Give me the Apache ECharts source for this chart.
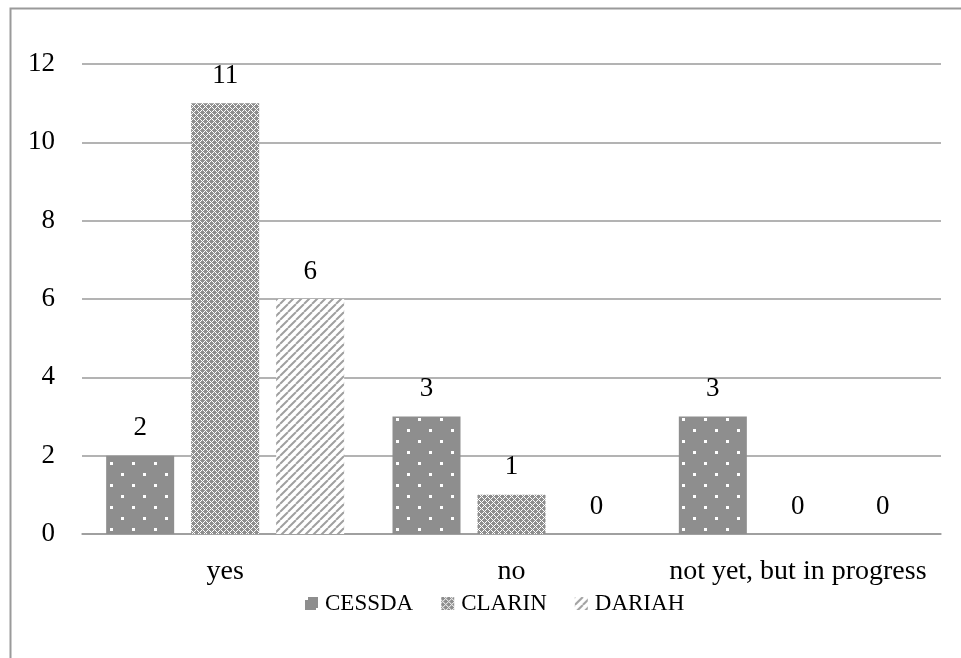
<!DOCTYPE html>
<html>
<head>
<meta charset="utf-8">
<script src="https://cdn.jsdelivr.net/npm/echarts@6/dist/echarts.min.js"></script>
<style>
  html, body { margin: 0; padding: 0; background: #fff; }
  #chart { width: 961px; height: 658px; }
</style>
</head>
<body>
<div id="chart"></div>
<script>
const categories = ['yes', 'no', 'not yet, but in progress'];
const seriesNames = ['CESSDA', 'CLARIN', 'DARIAH'];
const cessda = [2, 3, 3];
const clarin = [11, 1, 0];
const dariah = [6, 0, 0];
const yTicks = [0, 2, 4, 6, 8, 10, 12];

const GRAY = '#8e8e8e';
const FONT = '"Liberation Serif", "DejaVu Serif", serif';

// white dots on gray
function dotPattern() {
  let c = document.createElement('canvas');
  c.width = 22; c.height = 22;
  let ctx = c.getContext('2d');
  ctx.fillStyle = GRAY;
  ctx.fillRect(0, 0, 22, 22);
  ctx.fillStyle = '#fff';
  ctx.fillRect(0, 0, 3, 3);
  ctx.fillRect(11, 11, 3, 3);
  return c;
}

// small woven checker
function checkPattern() {
  let c = document.createElement('canvas');
  c.width = 6; c.height = 6;
  let ctx = c.getContext('2d');
  ctx.fillStyle = '#fff';
  ctx.fillRect(0, 0, 6, 6);
  ctx.fillStyle = GRAY;
  for (let y = 0; y < 6; y++) {
    for (let x = 0; x < 6; x++) {
      let bx = Math.floor(x / 3), by = Math.floor(y / 3);
      if (((bx + by) % 2 === 0) || ((x + y) % 2 === 0)) ctx.fillRect(x, y, 1, 1);
    }
  }
  return c;
}

// diagonal hatch
function diagPattern() {
  let c = document.createElement('canvas');
  c.width = 8; c.height = 8;
  let ctx = c.getContext('2d');
  ctx.fillStyle = '#fff';
  ctx.fillRect(0, 0, 8, 8);
  ctx.strokeStyle = '#a0a0a0';
  ctx.lineWidth = 2;
  ctx.beginPath();
  for (let k = -8; k <= 16; k += 8) {
    ctx.moveTo(k, 8);
    ctx.lineTo(k + 8, 0);
  }
  ctx.stroke();
  return c;
}

const patterns = [dotPattern(), checkPattern(), diagPattern()];
const values = [cessda, clarin, dariah];

let chartDom = document.getElementById('chart');
let myChart = echarts.init(chartDom, null, { renderer: 'canvas' });

let option = {
  backgroundColor: '#fff',
  animation: false,
  textStyle: { fontFamily: FONT },
  graphic: [
    {
      type: 'rect',
      shape: { x: 10.5, y: 8.5, width: 1000, height: 1000 },
      style: { fill: 'none', stroke: '#9a9a9a', lineWidth: 2 },
      silent: true,
    },
  ],
  legend: {
    top: 587,
    left: 300,
    itemWidth: 13,
    itemHeight: 13,
    itemGap: 28,
    icon: 'rect',
    textStyle: { fontFamily: FONT, fontSize: 23, color: '#000', padding: [0, 0, 0, 2] },
    data: seriesNames,
  },
  grid: { left: 82, right: 20, top: 64, bottom: 124, containLabel: false },
  xAxis: {
    type: 'category',
    data: categories,
    axisTick: { show: false },
    axisLine: { lineStyle: { color: '#9a9a9a', width: 1.5 } },
    axisLabel: { color: '#000', fontSize: 28, fontFamily: FONT, margin: 24, interval: 0 },
  },
  yAxis: {
    type: 'value',
    min: yTicks[0],
    max: yTicks[yTicks.length - 1],
    interval: 2,
    axisLine: { show: false },
    axisTick: { show: false },
    splitLine: { lineStyle: { color: '#9a9a9a', width: 1.5 } },
    axisLabel: { color: '#000', fontSize: 27, fontFamily: FONT, margin: 27 },
  },
  series: seriesNames.map((name, i) => ({
    name: name,
    type: 'bar',
    data: values[i],
    barWidth: 68,
    barGap: '25%',
    itemStyle: { color: { image: patterns[i], repeat: 'repeat' } },
    label: {
      show: true,
      position: 'top',
      distance: 14,
      color: '#000',
      fontSize: 27,
      fontFamily: FONT,
    },
  })),
};

myChart.setOption(option);
</script>
</body>
</html>
